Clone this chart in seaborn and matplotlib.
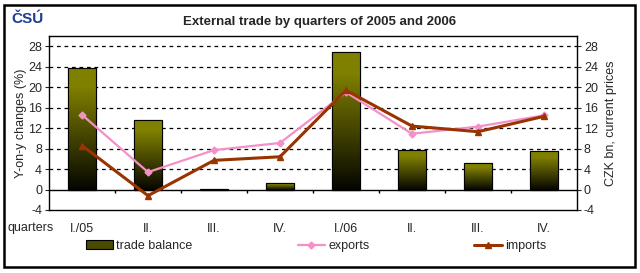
import numpy as np
import pandas as pd
import matplotlib
matplotlib.use('Agg')
import matplotlib.pyplot as plt
import seaborn as sns
from matplotlib.patches import Patch, Rectangle
from matplotlib.lines import Line2D

# data
quarters = ['I./05', 'II.', 'III.', 'IV.', 'I./06', 'II.', 'III.', 'IV.']
trade_balance = [23.7, 13.6, 0.1, 1.3, 26.9, 7.7, 5.2, 7.5]
exports = [14.6, 3.4, 7.7, 9.1, 19.0, 10.9, 12.3, 14.5]
imports = [8.6, -1.2, 5.7, 6.4, 19.4, 12.4, 11.3, 14.3]

sns.set_style('white')
plt.rcParams['font.family'] = ['Liberation Sans', 'DejaVu Sans']
plt.rcParams['font.size'] = 9
plt.rcParams['axes.unicode_minus'] = False

OLIVE = '#808000'
PINK = '#f490c8'
BROWN = '#993300'

pos = np.arange(len(quarters))
df = pd.DataFrame({'pos': pos, 'label': quarters, 'balance': trade_balance,
                   'exports': exports, 'imports': imports})

fig = plt.figure(figsize=(6.4, 2.73), dpi=100)
ax = fig.add_axes([49 / 640, 1 - 210 / 273, 528 / 640, 174 / 273])

sns.barplot(data=df, x='pos', y='balance', ax=ax, width=0.41,
            color=OLIVE, edgecolor='black', linewidth=0.8, zorder=2)

# vertical gradient olive -> black inside each bar
grad = np.linspace(0, 1, 256).reshape(-1, 1)
cmap = matplotlib.colors.LinearSegmentedColormap.from_list(
    'olv', [(0, '#050500'), (0.85, OLIVE), (1, OLIVE)])
for bar in ax.patches:
    x0, y0 = bar.get_x(), bar.get_y()
    w, h = bar.get_width(), bar.get_height()
    if h <= 0.05:
        continue
    im = ax.imshow(grad, extent=[x0, x0 + w, y0, y0 + h], origin='lower',
                   cmap=cmap, aspect='auto', zorder=2.1)
    im.set_clip_path(bar)
    ax.add_patch(Rectangle((x0, y0), w, h, fill=False, edgecolor='black',
                           linewidth=0.8, zorder=2.2))

ax.plot(df['pos'], df['exports'], color=PINK, lw=1.6, marker='D', ms=3.5,
        zorder=3)
ax.plot(df['pos'], df['imports'], color=BROWN, lw=2.2, marker='^', ms=5,
        zorder=4)

ax.set_xlim(-0.5, len(quarters) - 0.5)
ax.set_ylim(-4, 30)
yt = np.arange(-4, 29, 4)
ax.set_yticks(yt)
for v in yt[2:]:
    ax.axhline(v, color='black', lw=0.9, ls=(0, (3, 3)), zorder=1)
ax.axhline(0, color='black', lw=1, zorder=2.5)
ax.vlines(pos[:-1] + 0.5, -0.7, 0, color='black', lw=1, zorder=2.5)

ax.set_xticks(pos)
ax.set_xticklabels(quarters)
ax.tick_params(axis='x', length=0, pad=9)
ax.tick_params(axis='y', length=3, width=0.8, direction='out', left=True, pad=2)
ax.set_xlabel('')
ax.set_ylabel('Y-on-y changes (%)', labelpad=1)
for s in ax.spines.values():
    s.set_color('black')
    s.set_linewidth(1)

ax2 = ax.twinx()
ax2.set_ylim(-4, 30)
ax2.set_yticks(yt)
ax2.tick_params(axis='y', length=3, width=0.8, direction='out', right=True, pad=2)
ax2.set_ylabel('CZK bn, current prices', labelpad=5)
for s in ax2.spines.values():
    s.set_visible(False)

fig.text(8 / 640, 1 - 228 / 273, 'quarters', fontsize=9, va='center')
fig.text(320 / 640, 1 - 22 / 273, 'External trade by quarters of 2005 and 2006',
         fontsize=9.5, fontweight='bold', ha='center', va='center')
fig.text(11 / 640, 1 - 19 / 273, 'ČSÚ', fontsize=11, fontweight='bold',
         color='#1f3f8f', va='center', fontstretch='condensed')

handles = [Patch(facecolor='#4a4a00', edgecolor='black', linewidth=0.8),
           Line2D([], [], color=PINK, lw=1.6, marker='D', ms=3.5),
           Line2D([], [], color=BROWN, lw=2.2, marker='^', ms=5)]
fig.legend(handles, ['trade balance', 'exports', 'imports'], ncol=3,
           loc='center', bbox_to_anchor=(316 / 640, 1 - 246 / 273), frameon=False,
           handlelength=2.2, handletextpad=0.25, columnspacing=8.4, fontsize=9)

fig.add_artist(Rectangle((4 / 640, 1 - 267 / 273), 631 / 640, 262 / 273,
                         transform=fig.transFigure, fill=False,
                         edgecolor='black', linewidth=1.8))

fig.savefig('out.png', dpi=100)
